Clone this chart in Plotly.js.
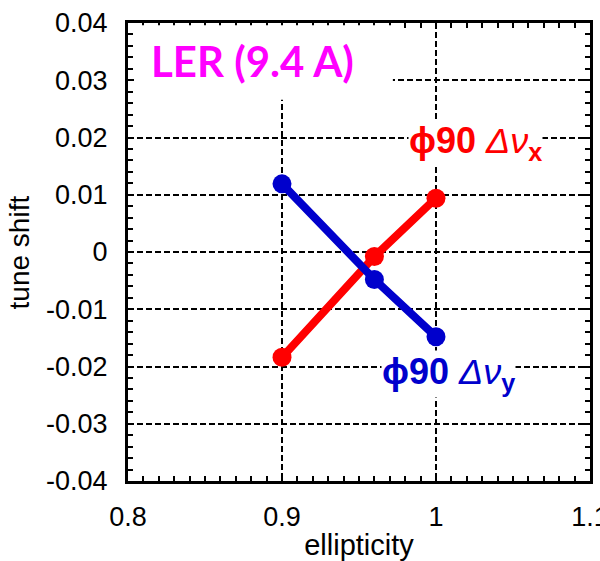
<!DOCTYPE html>
<html>
<head>
<meta charset="utf-8">
<script src="https://cdn.plot.ly/plotly-3.0.1.min.js"></script>
<style>html,body{margin:0;padding:0;background:#fff;}#chart{width:600px;height:561px;}</style>
</head>
<body>
<div id="chart"></div>
<script>
// Data
const ellipticity = [0.9, 0.96, 1.0];
const dnuX = [-0.0184, -0.0008, 0.0094];   // phi90 Δν_x (red)
const dnuY = [0.0119, -0.0048, -0.0148];   // phi90 Δν_y (blue)

const xTickVals = [0.8, 0.9, 1.0, 1.1];
const xTickText = ["0.8", "0.9", "1", "1.1"];
const yTickVals = [-0.04, -0.03, -0.02, -0.01, 0, 0.01, 0.02, 0.03, 0.04];
const yTickText = ["-0.04", "-0.03", "-0.02", "-0.01", "0", "0.01", "0.02", "0.03", "0.04"];

const RED = "#ff0000", BLUE = "#0000cc", MAGENTA = "#ff00ff";

const traces = [
  {x: ellipticity, y: dnuX, mode: "lines+markers", name: "ϕ90 Δνx",
   line: {color: RED, width: 8}, marker: {color: RED, size: 19}},
  {x: ellipticity, y: dnuY, mode: "lines+markers", name: "ϕ90 Δνy",
   line: {color: BLUE, width: 8}, marker: {color: BLUE, size: 19}}
];

const axisCommon = {
  showline: true, linecolor: "#000", linewidth: 3, mirror: "allticks",
  ticks: "inside", ticklen: 6, tickwidth: 2, tickcolor: "#000",
  showgrid: true, gridcolor: "#000", gridwidth: 2, griddash: "6px,3px",
  zeroline: false, tickmode: "array", ticklabeloverflow: "allow",
  tickfont: {family: "Liberation Sans, Arial, sans-serif", size: 27, color: "#000"}
};

const layout = {
  width: 600, height: 561,
  margin: {l: 128, r: 10, t: 23, b: 80},
  paper_bgcolor: "#fff", plot_bgcolor: "#fff",
  showlegend: false,
  xaxis: Object.assign({}, axisCommon, {
    range: [0.79999, 1.10001], tickvals: xTickVals, ticktext: xTickText,
    ticklabelstandoff: 10,
    minor: {dtick: 0.01, tick0: 0.8, ticks: "inside", ticklen: 5, tickwidth: 2, tickcolor: "#000", showgrid: false},
    title: {text: "ellipticity", standoff: 8,
            font: {family: "Liberation Sans, Arial, sans-serif", size: 29, color: "#000"}}
  }),
  yaxis: Object.assign({}, axisCommon, {
    range: [-0.040001, 0.040001], tickvals: yTickVals, ticktext: yTickText,
    ticklabelstandoff: 12,
    minor: {dtick: 0.002, tick0: 0, ticks: "inside", ticklen: 5, tickwidth: 2, tickcolor: "#000", showgrid: false}
  }),
  shapes: [
    {type: "rect", xref: "x", yref: "y", x0: 0.8042, x1: 0.972, y0: 0.0266, y1: 0.0396,
     fillcolor: "#fff", line: {width: 0}, layer: "above"}
  ],
  annotations: [
    {xref: "paper", yref: "paper", x: -0.235, y: 0.5, xanchor: "center", yanchor: "middle",
     text: "tune shift", textangle: -90, showarrow: false,
     font: {family: "Liberation Sans, Arial, sans-serif", size: 28, color: "#000"}},
    {xref: "x", yref: "y", x: 0.881, y: 0.0333, xanchor: "center", yanchor: "middle",
     text: "<b>LER (9.4 A)</b>", showarrow: false,
     font: {family: "Lato, sans-serif", size: 42, color: MAGENTA}},
    {xref: "x", yref: "y", x: 0.982, y: 0.0190, xanchor: "left", yanchor: "middle",
     text: "<b>ϕ90</b> <i>Δν</i><sub><b>x</b></sub>", showarrow: false, bgcolor: "#fff", borderpad: 0,
     font: {family: "Liberation Sans, Arial, sans-serif", size: 36, color: RED}},
    {xref: "x", yref: "y", x: 0.964, y: -0.0213, xanchor: "left", yanchor: "middle",
     text: "<b>ϕ90</b> <i>Δν</i><sub><b>y</b></sub>", showarrow: false, bgcolor: "#fff", borderpad: 0,
     font: {family: "Liberation Sans, Arial, sans-serif", size: 36, color: BLUE}}
  ]
};

Plotly.newPlot("chart", traces, layout, {displayModeBar: false, staticPlot: true});
</script>
</body>
</html>
